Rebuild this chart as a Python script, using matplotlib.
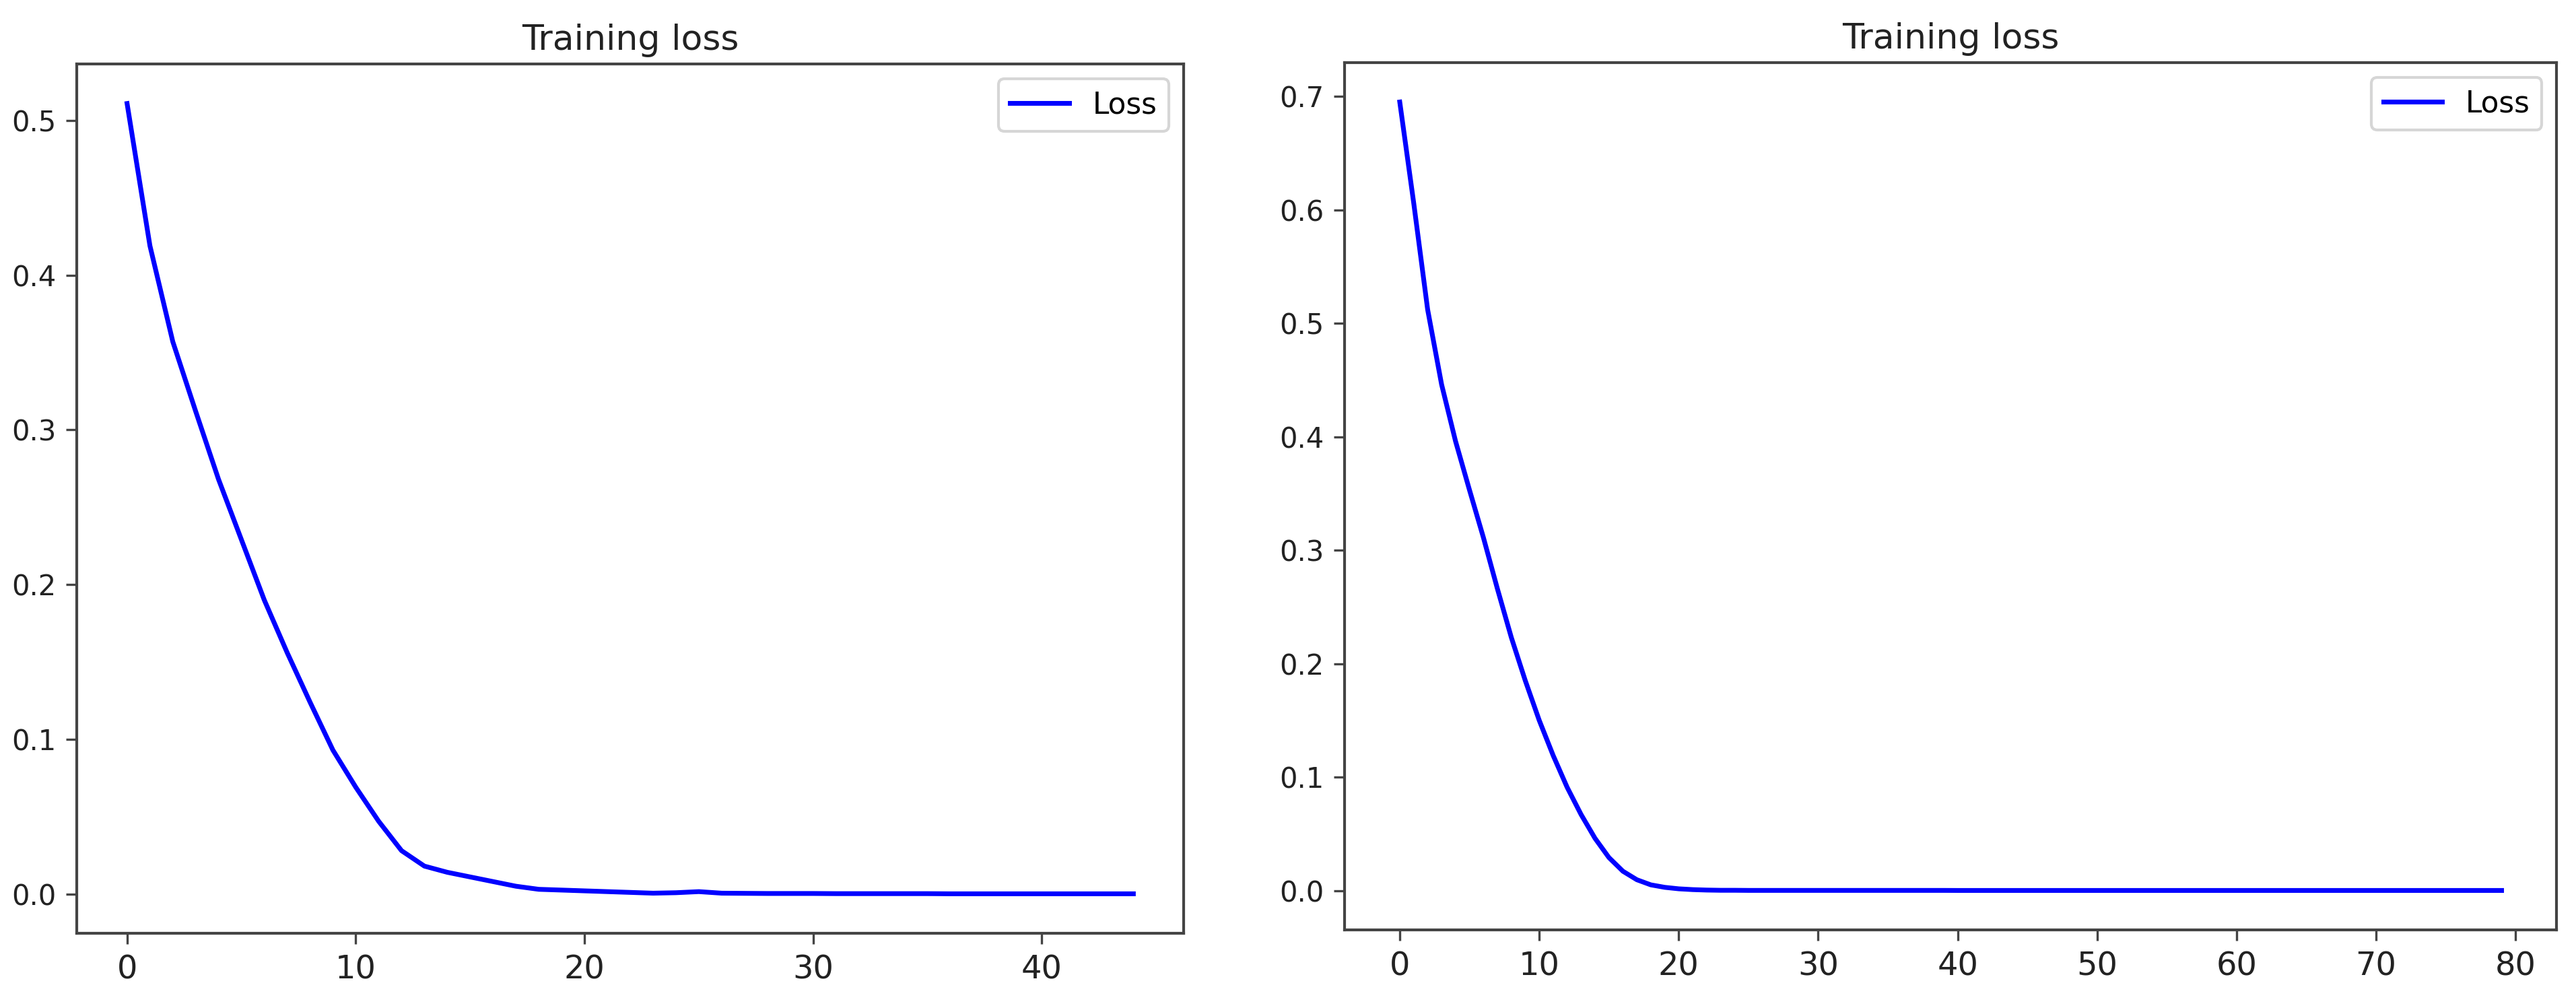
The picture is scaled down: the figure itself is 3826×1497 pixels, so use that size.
import matplotlib
matplotlib.use("Agg")
import matplotlib.pyplot as plt

# Loss per epoch
left_loss = [
    0.511, 0.419, 0.357, 0.312, 0.268, 0.229, 0.190, 0.156, 0.124, 0.093,
    0.069, 0.047, 0.028, 0.018, 0.014, 0.011, 0.008, 0.005, 0.003, 0.0025,
    0.002, 0.0015, 0.001, 0.0005, 0.0008, 0.0015, 0.0005, 0.0004, 0.0003, 0.0003,
    0.0003, 0.0002, 0.0002, 0.0002, 0.0002, 0.0002, 0.0001, 0.0001, 0.0001, 0.0001,
    0.0001, 0.0001, 0.0001, 0.0001, 0.0001,
]
right_loss = [
    0.695, 0.606, 0.512, 0.446, 0.396, 0.353, 0.311, 0.266, 0.223, 0.185,
    0.150, 0.119, 0.091, 0.067, 0.046, 0.029, 0.017, 0.0095, 0.005, 0.0028,
    0.0015, 0.0008, 0.0004, 0.0002, 0.0002, 0.0001, 0.0001, 0.0001, 0.0001, 0.0001,
] + [0.0001] * 10 + [0.00005] * 40

title_text = "Training loss"
legend_label = "Loss"

plt.rcParams["font.family"] = ["DejaVu Sans"]
plt.rcParams["axes.edgecolor"] = "#444444"
plt.rcParams["axes.linewidth"] = 1.0

fig = plt.figure(figsize=(3826 / 300, 1497 / 300), dpi=300)
ax1 = fig.add_axes([0.0298, 0.0741, 0.4297, 0.8624])
ax2 = fig.add_axes([0.5220, 0.0775, 0.4705, 0.8604])

for ax, loss in [(ax1, left_loss), (ax2, right_loss)]:
    ax.plot(range(len(loss)), loss, color="blue", linewidth=1.7, label=legend_label)
    ax.set_title(title_text, fontsize=12.5, color="#222222", pad=5)
    ax.legend(loc="upper right", fontsize=10.5)
    ax.tick_params(axis="both", length=3.8, width=0.8, color="#444444", labelcolor="#222222")
    ax.tick_params(axis="x", labelsize=11.5)
    ax.tick_params(axis="y", labelsize=10)

fig.savefig("out.png", dpi=300)
